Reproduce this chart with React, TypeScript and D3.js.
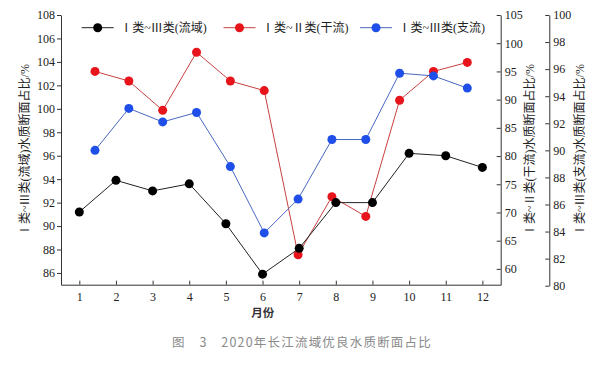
import React, { useEffect, useRef } from "react";
import * as d3 from "d3";

const months = [1, 2, 3, 4, 5, 6, 7, 8, 9, 10, 11, 12];
const basinValues = [91.2, 93.9, 93.0, 93.6, 90.2, 85.9, 88.1, 92.0, 92.0, 96.2, 96.0, 95.0];
const mainstreamValues = [95.0, 93.3, 88.1, 98.4, 93.3, 91.6, 62.5, 72.8, 69.3, 89.9, 95.0, 96.6];
const tributaryValues = [90.0, 93.1, 92.1, 92.8, 88.8, 83.9, 86.4, 90.8, 90.8, 95.7, 95.5, 94.6];

const leftTicks = [86, 88, 90, 92, 94, 96, 98, 100, 102, 104, 106, 108];
const right1Ticks = [60, 65, 70, 75, 80, 85, 90, 95, 100, 105];
const right2Ticks = [80, 82, 84, 86, 88, 90, 92, 94, 96, 98, 100];

const legendLabels = ["Ⅰ类~Ⅲ类(流域)", "Ⅰ类~Ⅱ类(干流)", "Ⅰ类~Ⅲ类(支流)"];
const leftTitle = "Ⅰ类~Ⅲ类(流域)水质断面占比/%";
const right1Title = "Ⅰ类~Ⅱ类(干流)水质断面占比/%";
const right2Title = "Ⅰ类~Ⅲ类(支流)水质断面占比/%";
const xTitle = "月份";
const caption = "图　3　2020年长江流域优良水质断面占比";

const SERIF = "'Liberation Serif', 'Noto Sans CJK SC', serif";
const SANS = "'Noto Sans CJK SC', 'Noto Sans', sans-serif";

export default function App() {
  const ref = useRef<SVGSVGElement>(null);

  useEffect(() => {
    const svg = d3.select(ref.current);
    svg.selectAll("*").remove();

    const x0 = 61, x1 = 500.7, yTop = 15, yBot = 284.7;
    const xScale = d3.scaleLinear().domain([0.5, 12.5]).range([x0, x1]);
    const xScale2 = d3.scaleLinear().domain([1, 12]).range([95, 467.3]);
    const yLeft = d3.scaleLinear().domain([85, 108]).range([yBot, yTop]);
    const yR1 = d3.scaleLinear().domain([57.2, 105]).range([yBot, yTop]);
    const yR2 = d3.scaleLinear().domain([80, 100]).range([285.7, yTop]);

    const styleAxis = (g: any) => {
      g.selectAll("path").attr("stroke", "#333").attr("stroke-width", 1);
      g.selectAll("line").attr("stroke", "#333").attr("stroke-width", 1);
      g.selectAll("text").attr("fill", "#222").style("font-family", SERIF).style("font-size", "12px");
      g.attr("font-family", null).attr("font-size", null);
    };

    // x axis
    svg.append("g")
      .attr("transform", `translate(0,${yBot})`)
      .call(d3.axisBottom(xScale).tickValues(months).tickSize(-4).tickSizeOuter(0).tickPadding(8).tickFormat(d3.format("d")))
      .call(styleAxis);

    // left axis
    svg.append("g")
      .attr("transform", `translate(${x0},0)`)
      .call(d3.axisLeft(yLeft).tickValues(leftTicks).tickSize(4).tickSizeOuter(0).tickPadding(2).tickFormat(d3.format("d")))
      .call(styleAxis);

    // right axis 1
    svg.append("g")
      .attr("transform", `translate(${x1},0)`)
      .call(d3.axisRight(yR1).tickValues(right1Ticks).tickSize(-4).tickSizeOuter(0).tickPadding(4).tickFormat(d3.format("d")))
      .call(styleAxis);

    // right axis 2
    svg.append("g")
      .attr("transform", `translate(549.3,0)`)
      .call(d3.axisRight(yR2).tickValues(right2Ticks).tickSize(-4).tickSizeOuter(0).tickPadding(4).tickFormat(d3.format("d")))
      .call(styleAxis);

    // axis titles
    const titles = [
      { t: leftTitle, x: 25 },
      { t: right1Title, x: 530 },
      { t: right2Title, x: 580 },
    ];
    titles.forEach(({ t, x }) => {
      svg.append("text")
        .attr("transform", `translate(${x},150) rotate(-90)`)
        .attr("text-anchor", "middle")
        .attr("dominant-baseline", "central")
        .style("font-family", SERIF)
        .style("font-size", "12px")
        .attr("fill", "#222")
        .text(t);
    });

    svg.append("text")
      .attr("x", xScale(6.5) - 18)
      .attr("y", 317)
      .attr("text-anchor", "middle")
      .style("font-family", SANS)
      .style("font-size", "11.5px")
      .style("font-weight", "bold")
      .attr("fill", "#333")
      .text(xTitle);

    svg.append("text")
      .attr("x", 302)
      .attr("y", 346.5)
      .attr("text-anchor", "middle")
      .style("font-family", SANS)
      .style("font-size", "12.5px")
      .style("letter-spacing", "1.2px")
      .attr("fill", "#8a8a8a")
      .text(caption);

    const series = [
      { vals: mainstreamValues, xs: xScale2, ys: yR1, line: "#c84040", dot: "#e8141b" },
      { vals: tributaryValues, xs: xScale2, ys: yR2, line: "#4a68c0", dot: "#1f4fe8" },
      { vals: basinValues, xs: xScale, ys: yLeft, line: "#222", dot: "#000" },
    ];

    series.forEach((s) => {
      const line = d3.line<number>()
        .x((_, i) => s.xs(months[i]))
        .y((d) => s.ys(d));
      svg.append("path")
        .attr("d", line(s.vals) as string)
        .attr("fill", "none")
        .attr("stroke", s.line)
        .attr("stroke-width", 1);
      svg.append("g")
        .selectAll("circle")
        .data(s.vals)
        .join("circle")
        .attr("cx", (_, i) => s.xs(months[i]))
        .attr("cy", (d) => s.ys(d))
        .attr("r", 4.5)
        .attr("fill", s.dot);
    });

    // legend
    const legendItems = [
      { label: legendLabels[0], x: 81.7, line: "#222", dot: "#000" },
      { label: legendLabels[1], x: 223.5, line: "#c84040", dot: "#e8141b" },
      { label: legendLabels[2], x: 360, line: "#4a68c0", dot: "#1f4fe8" },
    ];
    const ly = 27.7;
    legendItems.forEach((it) => {
      svg.append("line")
        .attr("x1", it.x).attr("x2", it.x + 32)
        .attr("y1", ly).attr("y2", ly)
        .attr("stroke", it.line).attr("stroke-width", 1);
      svg.append("circle")
        .attr("cx", it.x + 16).attr("cy", ly).attr("r", 4.5).attr("fill", it.dot);
      svg.append("text")
        .attr("x", it.x + 38.5)
        .attr("y", ly)
        .attr("dominant-baseline", "central")
        .style("font-family", SERIF)
        .style("font-size", "12px")
        .attr("fill", "#222")
        .text(it.label);
    });
  }, []);

  return (
    <svg
      ref={ref}
      width={601}
      height={368}
      style={{ position: "absolute", left: 0, top: 0, background: "#fff" }}
    />
  );
}
